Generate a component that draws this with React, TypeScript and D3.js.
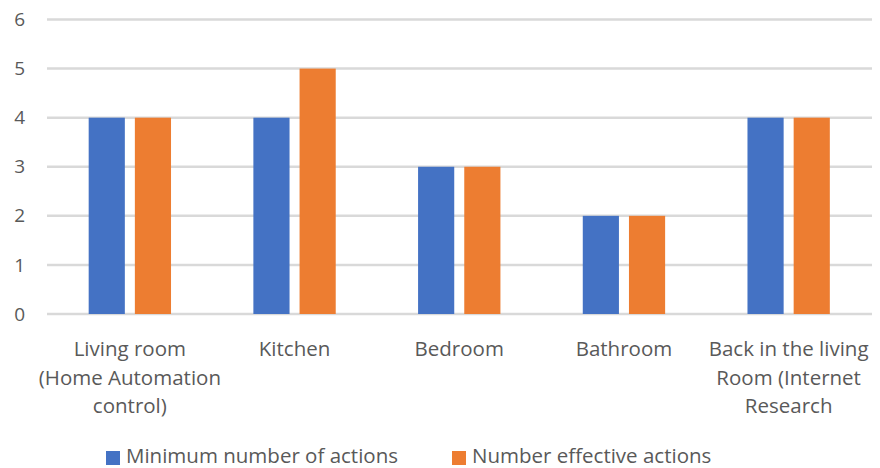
import React from "react";
import * as d3 from "d3";

const categories = [
  "Living room\n(Home Automation\ncontrol)",
  "Kitchen",
  "Bedroom",
  "Bathroom",
  "Back in the living\nRoom (Internet\nResearch",
];
const seriesNames = ["Minimum number of actions", "Number effective actions"];
const minimumActions = [4, 4, 3, 2, 4];
const effectiveActions = [4, 5, 3, 2, 4];
const yTicks = [0, 1, 2, 3, 4, 5, 6];
const colors = ["#4472C4", "#ED7D31"];

const W = 880;
const H = 468;
const FONT = "'Open Sans', sans-serif";

export default function App() {
  const x0 = d3.scaleBand<number>().domain(categories.map((_, i) => i)).range([47.5, 871]).padding(0);
  const bw = x0.bandwidth();
  const x1 = d3.scaleBand<number>().domain([0, 1]).range([bw * 0.25, bw * 0.75]).paddingInner(0.217);
  const y = d3.scaleLinear().domain([0, 6]).range([314, 19.5]);
  const series = [minimumActions, effectiveActions];

  return (
    <svg width={W} height={H} style={{ position: "absolute", left: 0, top: 0, background: "#fff" }} fontFamily={FONT}>
      {yTicks.map((t) => (
        <g key={t}>
          <line x1={47} x2={872} y1={y(t)} y2={y(t)} stroke="#d9d9d9" strokeWidth={2.5} />
          <text x={25} y={y(t)} dy="0.35em" textAnchor="end" fontSize={19} fill="#595959">
            {t}
          </text>
        </g>
      ))}
      {series.map((vals, s) =>
        vals.map((v, i) => (
          <rect
            key={`${s}-${i}`}
            x={(x0(i) as number) + (x1(s) as number)}
            width={x1.bandwidth()}
            y={y(v)}
            height={y(0) - y(v)}
            fill={colors[s]}
          />
        ))
      )}
      {categories.map((c, i) => (
        <text key={i} textAnchor="middle" fontSize={20.5} fill="#595959">
          {c.split("\n").map((ln, k) => (
            <tspan key={k} x={(x0(i) as number) + bw / 2} y={356 + k * 28.5}>
              {ln}
            </tspan>
          ))}
        </text>
      ))}
      {seriesNames.map((n, s) => {
        const lx = [106, 452][s];
        return (
          <g key={n}>
            <rect x={lx} y={451} width={14} height={14} fill={colors[s]} />
            <text x={lx + 20} y={463} fontSize={20.5} fill="#595959">
              {n}
            </text>
          </g>
        );
      })}
    </svg>
  );
}
